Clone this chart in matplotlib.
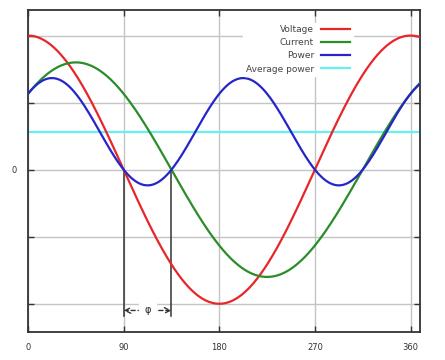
import numpy as np
import matplotlib
matplotlib.use("Agg")
from matplotlib import pyplot as plt

# values
voltage_amp = 1.0
current_amp = 0.8
phase_deg = 45          # current lags voltage
x_max = 369
x_ticks = [0, 90, 180, 270, 360]
x_tick_labels = ['0', '90', '180', '270', '360']
y_ticks = [-1, -0.5, 0, 0.5, 1]
y_tick_labels = ['', '', '0', '', '']
labels = ['Voltage', 'Current', 'Power', 'Average power']
colors = ['#e8262a', '#2a8c2a', '#2525c8', '#66f0f0']

deg = np.linspace(0, x_max, 800)
rad = np.deg2rad(deg)
voltage = voltage_amp * np.cos(rad)
current = current_amp * np.cos(rad - np.deg2rad(phase_deg))
power = voltage * current
avg_power = 0.5 * voltage_amp * current_amp * np.cos(np.deg2rad(phase_deg))

fig = plt.figure(figsize=(4.45, 3.6), dpi=100)
ax = fig.add_axes([0.063, 0.078, 0.881, 0.894])

ax.plot(deg, voltage, color=colors[0], lw=1.6, label=labels[0], zorder=3)
ax.plot(deg, current, color=colors[1], lw=1.6, label=labels[1], zorder=3)
ax.plot(deg, power, color=colors[2], lw=1.6, label=labels[2], zorder=3)
ax.axhline(avg_power, color=colors[3], lw=1.6, label=labels[3], zorder=2)

# phase shift markers
ax.plot([90, 90], [0, -1.09], color='#333333', lw=1.1, zorder=2)
ax.plot([90 + phase_deg] * 2, [0, -1.09], color='#333333', lw=1.1, zorder=2)
ax.annotate('', xy=(90, -1.05), xytext=(90 + phase_deg, -1.05),
            arrowprops=dict(arrowstyle='<->', color='#333333', lw=1.0,
                            linestyle=(0, (3, 2)), shrinkA=0, shrinkB=0))
ax.text(90 + phase_deg / 2, -1.05, '\u03c6', ha='center', va='center',
        fontsize=7, color='#222222', backgroundcolor='white', zorder=4)

ax.set_xlim(0, x_max)
ax.set_ylim(-1.21, 1.19)
ax.set_xticks(x_ticks)
ax.set_xticklabels(x_tick_labels)
ax.set_yticks(y_ticks)
ax.set_yticklabels(y_tick_labels)
ax.grid(True, color='#c4c4c4', lw=1.0)
ax.set_axisbelow(True)
ax.tick_params(direction='in', top=True, right=True, length=4, width=1,
               labelsize=6, colors='#333333', pad=8)
for s in ax.spines.values():
    s.set_linewidth(1.3)
    s.set_color('#333333')

leg = ax.legend(loc='upper right', bbox_to_anchor=(0.84, 0.975), frameon=True,
                fontsize=6.5, markerfirst=False, handlelength=3.2,
                labelspacing=0.45, borderpad=0.3)
leg.get_frame().set_edgecolor('white')
leg.get_frame().set_facecolor('white')
leg.get_frame().set_alpha(1)
for t in leg.get_texts():
    t.set_color('#444444')

fig.savefig('out.png', dpi=100)
